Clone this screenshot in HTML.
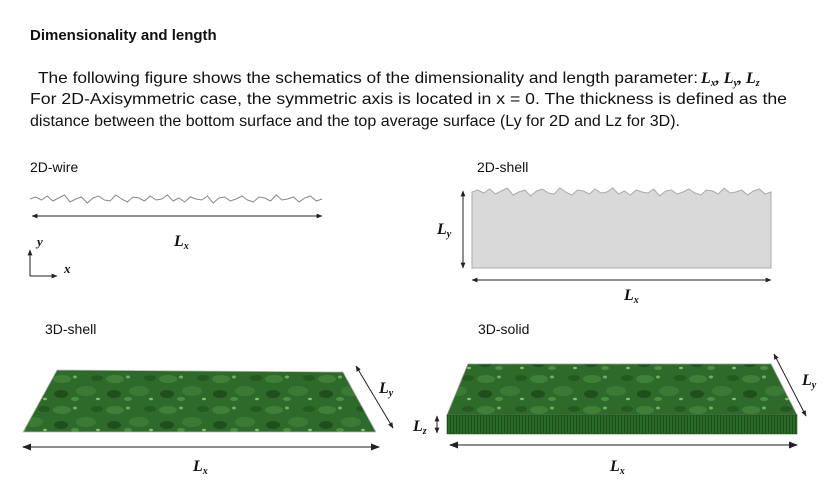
<!DOCTYPE html>
<html><head><meta charset="utf-8"><style>
html,body{margin:0;padding:0;background:#fff;}
svg{display:block;}
.t{font-family:"Liberation Sans",sans-serif;fill:#111;}
.m{font-family:"Liberation Serif",serif;font-style:italic;font-weight:bold;fill:#111;}
</style></head><body>
<svg id="fig" width="827" height="494" viewBox="0 0 827 494">
<defs>
<marker id="ah" viewBox="0 0 10 10" refX="9" refY="5" markerWidth="6" markerHeight="6" orient="auto-start-reverse"><path d="M0,1 L10,5 L0,9z" fill="#222"/></marker>
<pattern id="grn" width="53" height="31" patternUnits="userSpaceOnUse">
<rect width="53" height="31" fill="#2e6a2a"/>
<ellipse cx="9" cy="7" rx="9" ry="4" fill="#3f8038"/>
<ellipse cx="33" cy="19" rx="10" ry="5" fill="#3a7a34"/>
<ellipse cx="22" cy="5" rx="2" ry="1.5" fill="#6fb062"/>
<ellipse cx="45" cy="27" rx="2" ry="1.2" fill="#7cc070"/>
<ellipse cx="8" cy="22" rx="7" ry="4" fill="#1f4f1c"/>
<ellipse cx="44" cy="6" rx="6" ry="3" fill="#245a20"/>
<ellipse cx="22" cy="27" rx="4" ry="2" fill="#4a8e42"/>
</pattern>
<pattern id="side" width="3" height="3" patternUnits="userSpaceOnUse"><rect width="3" height="3" fill="#2a6a26"/><rect width="1" height="3" fill="#1d4d1a"/></pattern>
</defs>

<text class="t" x="30" y="40" font-size="15" font-weight="bold">Dimensionality and length</text>
<text class="t" x="38" y="83" font-size="16" textLength="660" lengthAdjust="spacingAndGlyphs">The following figure shows the schematics of the dimensionality and length parameter:</text>
<text class="m" x="701" y="83" font-size="16">L<tspan font-size="10" dy="3">x</tspan><tspan dy="-3">, L</tspan><tspan font-size="10" dy="3">y</tspan><tspan dy="-3">, L</tspan><tspan font-size="10" dy="3">z</tspan></text>
<text class="t" x="30" y="104" font-size="16" textLength="757" lengthAdjust="spacingAndGlyphs">For 2D-Axisymmetric case, the symmetric axis is located in x = 0. The thickness is defined as the</text>
<text class="t" x="30" y="126" font-size="16" textLength="650" lengthAdjust="spacingAndGlyphs">distance between the bottom surface and the top average surface (Ly for 2D and Lz for 3D).</text>

<text class="t" x="30" y="172" font-size="14">2D-wire</text>
<path id="wire" d="" fill="none" stroke="#888" stroke-width="1"/>
<line x1="32" y1="216" x2="322" y2="216" stroke="#222" marker-start="url(#ah)" marker-end="url(#ah)"/>
<text class="m" x="174" y="246" font-size="16">L<tspan font-size="10" dy="3">x</tspan></text>
<line x1="30" y1="276" x2="30" y2="250" stroke="#222" marker-end="url(#ah)"/>
<line x1="30" y1="276" x2="57" y2="276" stroke="#222" marker-end="url(#ah)"/>
<text class="m" x="37" y="246" font-size="13">y</text>
<text class="m" x="64" y="273" font-size="13">x</text>

<text class="t" x="477" y="172" font-size="14">2D-shell</text>
<path id="shell" d="" fill="#d9d9d9" stroke="#aaa"/>
<line x1="463" y1="191" x2="463" y2="268" stroke="#222" marker-start="url(#ah)" marker-end="url(#ah)"/>
<text class="m" x="437" y="234" font-size="16">L<tspan font-size="10" dy="3">y</tspan></text>
<line x1="472" y1="280" x2="771" y2="280" stroke="#222" marker-start="url(#ah)" marker-end="url(#ah)"/>
<text class="m" x="624" y="300" font-size="16">L<tspan font-size="10" dy="3">x</tspan></text>

<text class="t" x="45" y="334" font-size="14">3D-shell</text>
<polygon points="57,370 343,372 376,432 23,432" fill="url(#grn)" stroke="#bbb" stroke-width="0.8"/>
<line x1="356" y1="366" x2="393" y2="428" stroke="#222" marker-start="url(#ah)" marker-end="url(#ah)"/>
<text class="m" x="379" y="393" font-size="16">L<tspan font-size="10" dy="3">y</tspan></text>
<line x1="23" y1="447" x2="379" y2="447" stroke="#666" stroke-width="1.5" marker-start="url(#ah)" marker-end="url(#ah)"/>
<text class="m" x="193" y="471" font-size="16">L<tspan font-size="10" dy="3">x</tspan></text>

<text class="t" x="478" y="334" font-size="14">3D-solid</text>
<polygon points="468,364 771,364 797,415 447,415" fill="url(#grn)" stroke="#999" stroke-width="0.8"/>
<rect x="447" y="415" width="350" height="19" fill="url(#side)" stroke="#1d4d1a" stroke-width="0.5"/>
<line x1="437" y1="416" x2="437" y2="433" stroke="#222" marker-start="url(#ah)" marker-end="url(#ah)"/>
<text class="m" x="413" y="431" font-size="16">L<tspan font-size="10" dy="3">z</tspan></text>
<line x1="774" y1="354" x2="806" y2="416" stroke="#222" marker-start="url(#ah)" marker-end="url(#ah)"/>
<text class="m" x="802" y="385" font-size="16">L<tspan font-size="10" dy="3">y</tspan></text>
<line x1="450" y1="445" x2="797" y2="445" stroke="#666" stroke-width="1.5" marker-start="url(#ah)" marker-end="url(#ah)"/>
<text class="m" x="610" y="471" font-size="16">L<tspan font-size="10" dy="3">x</tspan></text>
</svg>
<script>
const roughness = [0,2,-1,3,-2,1,4,-3,0,2,-4,1,3,-1,-2,4,0,-3,2,1,-2,3,-1,0,4,-2,1,-3,2,0,-1,3,-4,1,2,-2,0,3,-1,-3,2,1,-2,4,-1,0,2,-3,1,3,-2,0];
function prof(x0,x1,yb){
  const n=roughness.length, pts=[];
  for(let i=0;i<n;i++){const x=x0+(x1-x0)*i/(n-1);pts.push(x.toFixed(1)+','+(yb-roughness[i]).toFixed(1));}
  return pts;
}
const w=prof(30,322,199);
document.getElementById('wire').setAttribute('d','M'+w.join(' L'));
const s=prof(472,771,192);
document.getElementById('shell').setAttribute('d','M472,268 L'+s.join(' L')+' L771,268 Z');
</script>
</body></html>
